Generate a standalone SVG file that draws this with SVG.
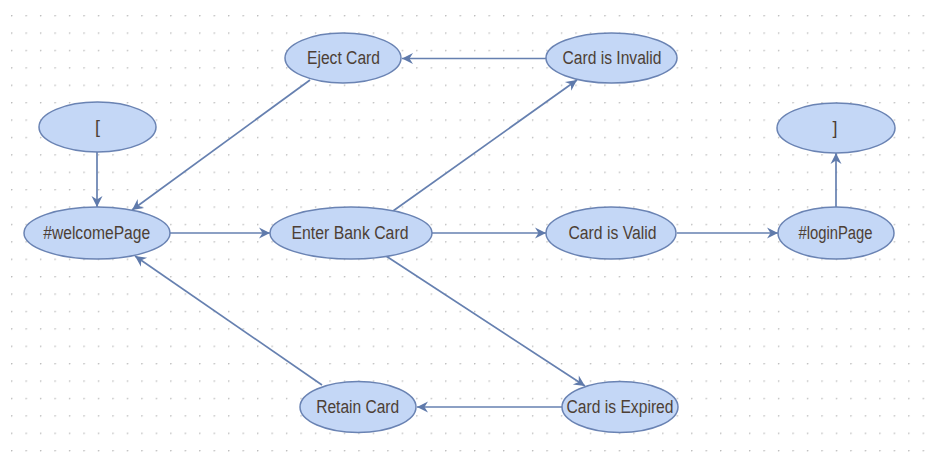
<svg xmlns="http://www.w3.org/2000/svg" width="933" height="467" viewBox="0 0 933 467">
  <defs>
    <!-- dotted canvas grid -->
    <pattern id="grid" patternUnits="userSpaceOnUse" x="11" y="15" width="14.47" height="17.4">
      <circle cx="0.7" cy="0.7" r="0.8" fill="#b9b9b9"/>
    </pattern>
    <marker id="arrow" markerUnits="userSpaceOnUse" markerWidth="12" markerHeight="12" refX="11" refY="5.5" orient="auto" overflow="visible">
      <path d="M0,0 L11,5.5 L0,11 L3.5,5.5 Z" fill="#5f7aab"/>
    </marker>
    <style>
      .node ellipse { fill: #c4d7f6; stroke: #6a83b3; stroke-width: 1.5; }
      .node text { font-family: "Liberation Sans", Arial, sans-serif; font-size: 18px; fill: #4d3f35; text-anchor: middle; }
      #edges line { stroke: #6680b0; stroke-width: 1.7; fill: none; marker-end: url(#arrow); }
    </style>
  </defs>

  <rect width="933" height="467" fill="#ffffff"/>
  <rect width="933" height="467" fill="url(#grid)"/>

  <g id="edges">
    <line x1="97" y1="152" x2="97" y2="207"/>
    <line x1="310" y1="80" x2="132" y2="210"/>
    <line x1="170" y1="233" x2="270" y2="233"/>
    <line x1="393" y1="211" x2="577" y2="80"/>
    <line x1="546" y1="58.5" x2="402" y2="58.5"/>
    <line x1="432" y1="233" x2="546" y2="233"/>
    <line x1="677" y1="233" x2="778" y2="233"/>
    <line x1="836" y1="207" x2="836" y2="153"/>
    <line x1="386" y1="256" x2="585" y2="386"/>
    <line x1="562" y1="407" x2="417" y2="407"/>
    <line x1="322" y1="385" x2="135" y2="256"/>
  </g>

  <g id="start" class="node">
    <ellipse cx="97.5" cy="127" rx="58.5" ry="25"/>
    <text x="97.5" y="133">[</text>
  </g>
  <g id="end" class="node">
    <ellipse cx="836" cy="128" rx="59" ry="25"/>
    <text x="835" y="134">]</text>
  </g>
  <g id="ejectCard" class="node">
    <ellipse cx="343" cy="58" rx="58" ry="25"/>
    <text x="343.5" y="63.5" textLength="73" lengthAdjust="spacingAndGlyphs">Eject Card</text>
  </g>
  <g id="cardInvalid" class="node">
    <ellipse cx="611.5" cy="58" rx="65.5" ry="25"/>
    <text x="612" y="63.5" textLength="99" lengthAdjust="spacingAndGlyphs">Card is Invalid</text>
  </g>
  <g id="welcomePage" class="node">
    <ellipse cx="97" cy="233" rx="73" ry="26"/>
    <text x="96.7" y="238.5" textLength="107" lengthAdjust="spacingAndGlyphs">#welcomePage</text>
  </g>
  <g id="enterBankCard" class="node">
    <ellipse cx="351" cy="233" rx="81" ry="26"/>
    <text x="350" y="238.5" textLength="117" lengthAdjust="spacingAndGlyphs">Enter Bank Card</text>
  </g>
  <g id="cardValid" class="node">
    <ellipse cx="611" cy="233" rx="65" ry="26"/>
    <text x="612.5" y="238.5" textLength="88" lengthAdjust="spacingAndGlyphs">Card is Valid</text>
  </g>
  <g id="loginPage" class="node">
    <ellipse cx="836" cy="233" rx="58" ry="26"/>
    <text x="835.5" y="238.5" textLength="74" lengthAdjust="spacingAndGlyphs">#loginPage</text>
  </g>
  <g id="retainCard" class="node">
    <ellipse cx="358" cy="407" rx="58" ry="25.5"/>
    <text x="357.7" y="412.5" textLength="83" lengthAdjust="spacingAndGlyphs">Retain Card</text>
  </g>
  <g id="cardExpired" class="node">
    <ellipse cx="620" cy="407" rx="58" ry="25.5"/>
    <text x="620" y="412.5" textLength="107" lengthAdjust="spacingAndGlyphs">Card is Expired</text>
  </g>
</svg>
